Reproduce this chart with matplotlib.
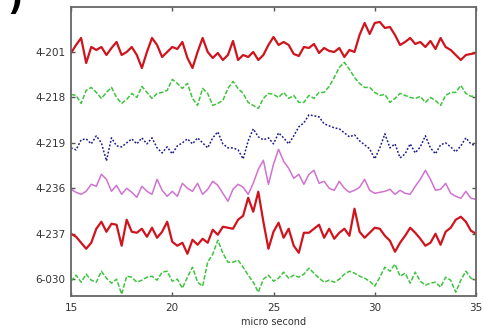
"""
Stacked waveform traces (4-201 ... 6-030) vs time, 15-35 micro second.
"""

import numpy as np
import matplotlib
matplotlib.use("Agg")
import matplotlib.pyplot as plt

# time axis, micro second (0.25 us step)
t = np.arange(15.0, 35.001, 0.25)

CHANNELS = ["4-201", "4-218", "4-219", "4-236", "4-237", "6-030"]

# amplitudes, arbitrary units (trace spacing = 45 units)
amp_4_201 = [-1, 7, 14, -11, 5, 2, 5, -3, 4, 10, -3, 0, 5, -3, -16, 0, 14, 7, -5, 0,
             5, 3, 10, -6, -16, 0, 14, 0, -6, -1, -8, -3, 11, -8, -3, -5, 0, -8, -3, 7,
             15, 7, 10, 7, -2, -4, 5, 4, 8, -1, 4, 1, 0, 4, -5, 2, 0, 17, 29, 18,
             29, 30, 24, 25, 17, 7, 10, 14, 8, 10, 5, 11, 3, 14, 5, 2, -3, -8, -3, -2,
             -1]
amp_4_218 = [3, 2, -6, 7, 10, 5, -1, 5, 10, 0, -6, -2, 4, 0, 11, 5, -1, 4, 5, 7,
             18, 14, 9, 14, -1, -8, 9, 4, -8, -6, -3, 9, 16, 9, 4, -5, -8, -11, -1, 4,
             3, 0, 5, -1, 2, -5, -5, 2, -1, 5, 5, 11, 20, 30, 35, 28, 20, 14, 10, 10,
             5, 2, 3, -5, -1, 4, 2, 0, -1, 1, -5, 0, -3, -8, 2, 5, 5, 12, 4, 1,
             2]
amp_4_219 = [-5, -7, 3, 4, -1, 7, 0, -18, 5, -3, -4, 0, 4, -1, 5, -1, 5, -5, -10, -4,
             -11, -3, 0, 4, -1, 5, 0, -5, 5, 11, -1, -5, -5, -7, -16, 2, 14, 6, 3, 5,
             -1, 10, 5, -1, 7, 16, 20, 28, 27, 26, 19, 17, 15, 14, 10, 6, 8, 2, -2, -6,
             -16, -5, 9, -5, -1, -15, -11, -1, -10, -4, 7, -5, -11, -2, 0, -4, -9, -3, 5, -1,
             -3]
amp_4_236 = [-1, -4, -6, -3, 4, 2, 14, 9, -3, 3, -6, 0, -4, -9, 2, -3, -6, 9, -2, -8,
             -3, -8, 5, 0, -3, 5, -6, -1, 7, 3, -5, -13, -1, 4, 1, -6, 5, 19, 28, 4,
             24, 39, 27, 20, 10, 14, 4, 14, 18, 5, 7, 0, -2, 7, 0, -4, -2, 1, 9, -2,
             -5, -4, -3, -1, -6, -2, -5, -6, 2, 9, 18, 9, -2, -1, 5, -5, -8, -10, -3, -10,
             -11]
amp_4_237 = [0, -3, -9, -15, -9, 5, 12, 2, 10, 9, -12, 14, 2, 1, 5, -3, 6, -4, 2, 12,
             -8, -12, -9, -20, -6, -11, -5, -9, 4, -1, 7, 6, 5, 14, 18, 36, 22, 42, 12, -15,
             2, 11, -4, 5, -12, -19, 1, 1, 5, 9, -4, 5, -5, 1, 5, -2, 25, 2, -4, 1,
             6, 5, -2, -7, -18, -9, -2, 6, 1, -5, -12, -9, 0, -11, 2, 6, 14, 17, 12, 3,
             0]
amp_6_030 = [-2, 4, -3, 5, -1, -3, 8, 1, -4, 0, -15, 3, 2, -3, -1, 2, 3, -1, 7, 8,
             -2, 0, -9, 2, 12, -3, -7, 17, 25, 39, 26, 17, 17, 19, 12, 4, -3, -13, 0, 4,
             -2, 1, 7, 1, 4, 2, 5, 11, 6, 1, -3, -1, -3, 0, 5, 8, 6, 3, 1, -2,
             -7, 2, 12, 8, 15, 3, 6, -4, 7, -2, -6, -4, -3, -8, 2, -1, -13, -1, 8, 1,
             -1]

AMPS = [amp_4_201, amp_4_218, amp_4_219, amp_4_236, amp_4_237, amp_6_030]
SPACING = 45.4

STYLE = [
    dict(color="#d0141e", lw=1.6, ls="-"),
    dict(color="#3ec43e", lw=1.1, ls=(0, (3, 1.2))),
    dict(color="#1c1c8a", lw=1.1, ls=(0, (1.2, 1.2))),
    dict(color="#d072d0", lw=1.1, ls="-"),
    dict(color="#d0141e", lw=1.6, ls="-"),
    dict(color="#3ec43e", lw=1.1, ls=(0, (3, 1.2))),
]


def main():
    fig = plt.figure(figsize=(4.83, 3.36), dpi=100)
    ax = fig.add_axes([71 / 483, 1 - 296 / 336, 405 / 483, 289 / 336])

    n = len(CHANNELS)
    for i, (name, a) in enumerate(zip(CHANNELS, AMPS)):
        base = n - 1 - i
        ax.plot(t, base + np.asarray(a) / SPACING, **STYLE[i])

    ax.set_xlim(15, 35)
    ax.set_ylim(-0.37, 5.99)
    ax.set_xticks([15, 20, 25, 30, 35])
    ax.set_yticks(range(n - 1, -1, -1))
    ax.set_yticklabels(CHANNELS)
    ax.tick_params(direction="in", length=3, width=1, colors="#555555",
                   labelcolor="#333333", labelsize=7.5, top=True, right=True)
    ax.tick_params(axis="x", pad=5)
    ax.tick_params(axis="y", pad=4)
    for s in ax.spines.values():
        s.set_color("#666666")
        s.set_linewidth(1.3)
    ax.set_xlabel("micro second", fontsize=7, color="#333333", labelpad=3)

    fig.text(15 / 483, 1.0, ")", fontsize=24, fontweight="bold",
             ha="center", va="center")

    fig.savefig("out.png", dpi=100)
    plt.close(fig)


if __name__ == "__main__":
    main()
